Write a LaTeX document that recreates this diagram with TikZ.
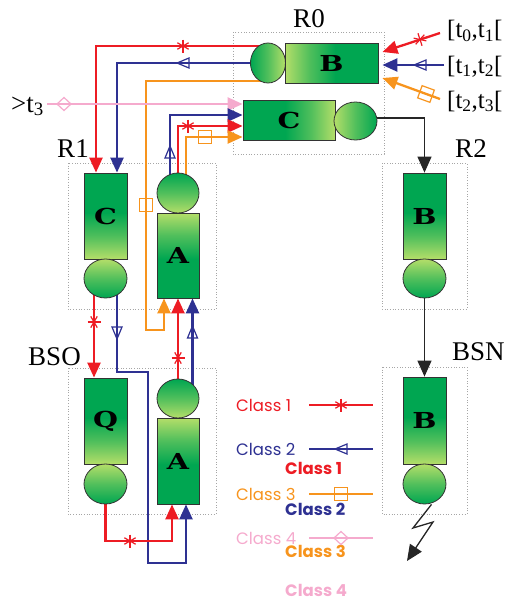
\documentclass[tikz,border=0pt]{standalone}
\usepackage{fontspec}
\setmainfont{Liberation Serif}
\newfontfamily\boxfont[FakeStretch=1.3]{DejaVu Serif}
\newfontfamily\clsfont{Poppins}
\usetikzlibrary{arrows.meta,shapes.geometric,backgrounds,calc}
\definecolor{c1}{RGB}{237,28,36}
\definecolor{c2}{RGB}{46,49,146}
\definecolor{c3}{RGB}{247,148,29}
\definecolor{c4}{RGB}{245,170,205}
\definecolor{gd}{RGB}{0,166,81}
\definecolor{gl}{RGB}{180,222,105}
\pgfdeclarehorizontalshading{gboxsh}{100bp}{color(0bp)=(gl); color(25bp)=(gl); color(38bp)=(gl!45!gd); color(52bp)=(gd); color(100bp)=(gd)}
\pgfdeclarehorizontalshading{gcirsh}{100bp}{color(0bp)=(gl); color(25bp)=(gl); color(50bp)=(gl!45!gd); color(75bp)=(gd); color(100bp)=(gd)}
\tikzset{
  gbox/.style={rectangle, draw=black!80, line width=0.8pt, shade, shading=gboxsh, inner sep=0pt,
    font=\boxfont\bfseries\fontsize{22}{22}\selectfont},
  gcir/.style={ellipse, draw=black!80, line width=0.8pt, shade, shading=gcirsh, inner sep=0pt},
  region/.style={draw=gray!70, line width=0.9pt, dash pattern=on 0.9pt off 1.8pt},
  lbl/.style={inner sep=0pt, font=\fontsize{27}{30}\selectfont},
  ilbl/.style={inner sep=0pt, anchor=base west, font=\fontsize{25}{28}\selectfont},
  l1/.style={draw=c1, line width=2.3pt},
  l2/.style={draw=c2, line width=2.3pt},
  l3/.style={draw=c3, line width=2.3pt},
  l4/.style={draw=c4, line width=2.3pt},
  lk/.style={draw=black!85, line width=1.3pt},
  tip/.style={-{Triangle[length=15pt,width=13pt]}},
  tipk/.style={-{Triangle[length=16pt,width=14pt]}},
  clsA/.style={anchor=west, inner sep=0pt, font=\clsfont\fontsize{16.5}{17}\selectfont},
  clsB/.style={anchor=west, inner sep=0pt, font=\clsfont\bfseries\fontsize{16.5}{17}\selectfont},
  pics/astk/.style={code={\foreach \a in {30,90,150}{\draw[line width=1.2pt] (\a:6.5pt) -- (\a+180:6.5pt);}}},
  pics/tri/.style={code={\draw[line width=1.2pt, line join=miter] (-6pt,0pt) -- (6pt,5pt) -- (6pt,-5pt) -- cycle;}},
  pics/sqr/.style={code={\draw[line width=1.2pt] (-6.5pt,-6.5pt) rectangle (6.5pt,6.5pt);}},
  pics/dia/.style={code={\draw[line width=1.2pt] (7pt,0pt) -- (0pt,6.5pt) -- (-7pt,0pt) -- (0pt,-6.5pt) -- cycle;}},
}
\begin{document}
\begin{tikzpicture}[x=1pt,y=-1pt]
\useasboundingbox (0,0) rectangle (505,603);

% ---- R0 ----
\node[gcir, minimum width=35pt, minimum height=40pt, shading angle=180] (b0c) at (268,63) {};
\node[gbox, minimum width=93pt, minimum height=40pt, shading angle=0] (b0b) at (331.5,63) {B};
\node[gbox, minimum width=92pt, minimum height=40pt, shading angle=180] (c0b) at (289,120) {C};
\node[gcir, minimum width=43pt, minimum height=38pt, shading angle=0] (c0c) at (355.5,121) {};
% ---- R1 ----
\node[gbox, minimum width=43pt, minimum height=86pt, shading angle=90] (c1b) at (105.5,216) {C};
\node[gcir, minimum width=43pt, minimum height=39pt, shading angle=-90] (c1c) at (105.5,278.5) {};
\node[gcir, minimum width=42pt, minimum height=40pt, shading angle=90] (a1c) at (178,193) {};
\node[gbox, minimum width=42pt, minimum height=85pt, shading angle=-90] (a1b) at (178,255.5) {A};
% ---- BSO ----
\node[gbox, minimum width=43pt, minimum height=86pt, shading angle=90] (qb) at (105.5,421) {Q};
\node[gcir, minimum width=43pt, minimum height=40pt, shading angle=-90] (qc) at (105.5,484) {};
\node[gcir, minimum width=42pt, minimum height=39pt, shading angle=90] (a2c) at (178,398.5) {};
\node[gbox, minimum width=42pt, minimum height=86pt, shading angle=-90] (a2b) at (178,461) {A};
% ---- R2 ----
\node[gbox, minimum width=43pt, minimum height=86pt, shading angle=90] (b2b) at (424.5,216) {B};
\node[gcir, minimum width=43pt, minimum height=39pt, shading angle=-90] (b2c) at (424.5,278.5) {};
% ---- BSN ----
\node[gbox, minimum width=43pt, minimum height=87pt, shading angle=90] (b3b) at (424.5,420.5) {B};
\node[gcir, minimum width=43pt, minimum height=40pt, shading angle=-90] (b3c) at (424.5,484) {};

% ---- labels ----
\node[lbl, anchor=base] (lR0) at (309,27) {R0};
\node[lbl, anchor=base] (lR1) at (73,157) {R1};
\node[lbl, anchor=base] (lR2) at (471,157) {R2};
\node[lbl, anchor=base] (lBSO) at (54.5,365) {BSO};
\node[lbl, anchor=base west] (lBSN) at (452,360) {BSN};
\node[lbl, anchor=base west] (lt3) at (11,112) {>t\textsubscript{3}};
\node[ilbl] (i1) at (447,37.5) {[t\textsubscript{0},t\textsubscript{1}[};
\node[ilbl] (i2) at (447,73) {[t\textsubscript{1},t\textsubscript{2}[};
\node[ilbl] (i3) at (447,108) {[t\textsubscript{2},t\textsubscript{3}[};

% ---- legend ----
\node[clsA, text=c1] (k1) at (236,405) {Class 1};
\node[clsA, text=c2] (k2) at (236,449) {Class 2};
\node[clsA, text=c3] (k3) at (236,494) {Class 3};
\node[clsA, text=c4] (k4) at (236,538) {Class 4};
\node[clsB, text=c1] (m1) at (285,468) {Class 1};
\node[clsB, text=c2] (m2) at (285,509) {Class 2};
\node[clsB, text=c3] (m3) at (285,551) {Class 3};
\node[clsB, text=c4] (m4) at (285,590) {Class 4};

\begin{pgfonlayer}{background}
% regions
\draw[region] (233,32) rectangle (384,154);
\draw[region] (68,163) rectangle (216,309);
\draw[region] (382,163) rectangle (467,309);
\draw[region] (68,368) rectangle (216,514);
\draw[region] (382,367) rectangle (467,514);

% inputs to R0 B
\coordinate (in1) at (440,33);
\coordinate (in2) at (444,65);
\coordinate (in3) at (440,99);
\draw[l1,tip] (in1) -- ([shift={(4pt,11pt)}]b0b.east);
\draw[l2,tip] (in2) -- ([shift={(4pt,-2pt)}]b0b.east);
\draw[l3,tip] (in3) -- ([shift={(4pt,-15pt)}]b0b.east);

% R0 B circle -> R1
\draw[l1,tip] ($(b0c.center)+(0,-17)$) -| ([xshift=-9.5pt]c1b.north);
\draw[l2,tip] (b0c.center) -| ([xshift=11.5pt]c1b.north);
\draw[l3,tip] ($(b0c.center)+(0,18)$) -| (146,330) -| ([xshift=-14pt]a1b.south);

% into R0 C
\coordinate (t3in) at (47,104);
\draw[l4,tip] (t3in) -- (t3in -| c0b.west);
\draw[l2,tip] ([xshift=-8pt]a1c.center) |- ([yshift=5pt]c0b.west);
\draw[l1,tip] (a1c.center) |- ([yshift=-6pt]c0b.west);
\draw[l3,tip] ([xshift=8pt]a1c.center) |- ([yshift=-17pt]c0b.west);

% black flow
\draw[lk,tipk] ([yshift=3pt]c0c.east) -| (b2b.north);
\draw[lk,tipk] (b2c.south) -- (b3b.north);
\coordinate (bolt) at (407,561);
\draw[lk,tipk,line join=miter] ([xshift=7pt]b3c.south) -- (413,528) -- (433,522) -- (bolt);

% R1 C circle -> BSO
\draw[l1,tip] ([xshift=-11.5pt]c1c.center) -- ([xshift=-11.5pt]qb.north);
\draw[l2,tip] ([xshift=11.5pt]c1c.center) |- (148,372) |- (186,563) -- ([xshift=8pt]a2b.south);
% BSO A circle -> R1 A
\draw[l1,tip] (a2c.center) -- (a1b.south);
\draw[l2,tip] ([xshift=14.5pt]a2c.center) -- ([xshift=14.5pt]a1b.south);
% Q circle -> BSO A
\draw[l1,tip] (qc.center) |- (172,541) -- ([xshift=-6pt]a2b.south);

% legend lines
\draw[l1, line width=2pt] (309,405) -- (373,405);
\draw[l2, line width=2pt] (309,449) -- (373,449);
\draw[l3, line width=2pt] (309,494) -- (373,494);
\draw[l4, line width=2pt] (309,538) -- (373,538);
\end{pgfonlayer}

% ---- markers ----
\pic[c1] at (183,46) {astk};
\pic[c1] at (188,126) {astk};
\pic[c1, rotate=90] at (94,322) {astk};
\pic[c1, rotate=90] at (178,358) {astk};
\pic[c1] at (130,541) {astk};
\pic[c1, rotate=18] at (420,39.5) {astk};
\pic[c1] at (341,405) {astk};

\pic[c2] at (183,63) {tri};
\pic[c2, rotate=-90] at (170,152) {tri};
\pic[c2, rotate=90] at (117,333) {tri};
\pic[c2, rotate=-90] at (192.5,332) {tri};
\pic[c2] at (420,65) {tri};
\pic[c2] at (341,449) {tri};

\pic[c3] at (146,205) {sqr};
\pic[c3] at (205,137) {sqr};
\pic[c3, rotate=-20] at (426,94) {sqr};
\pic[c3] at (341,494) {sqr};

\pic[c4] at (64,104) {dia};
\pic[c4] at (341,538) {dia};
\end{tikzpicture}
\end{document}
